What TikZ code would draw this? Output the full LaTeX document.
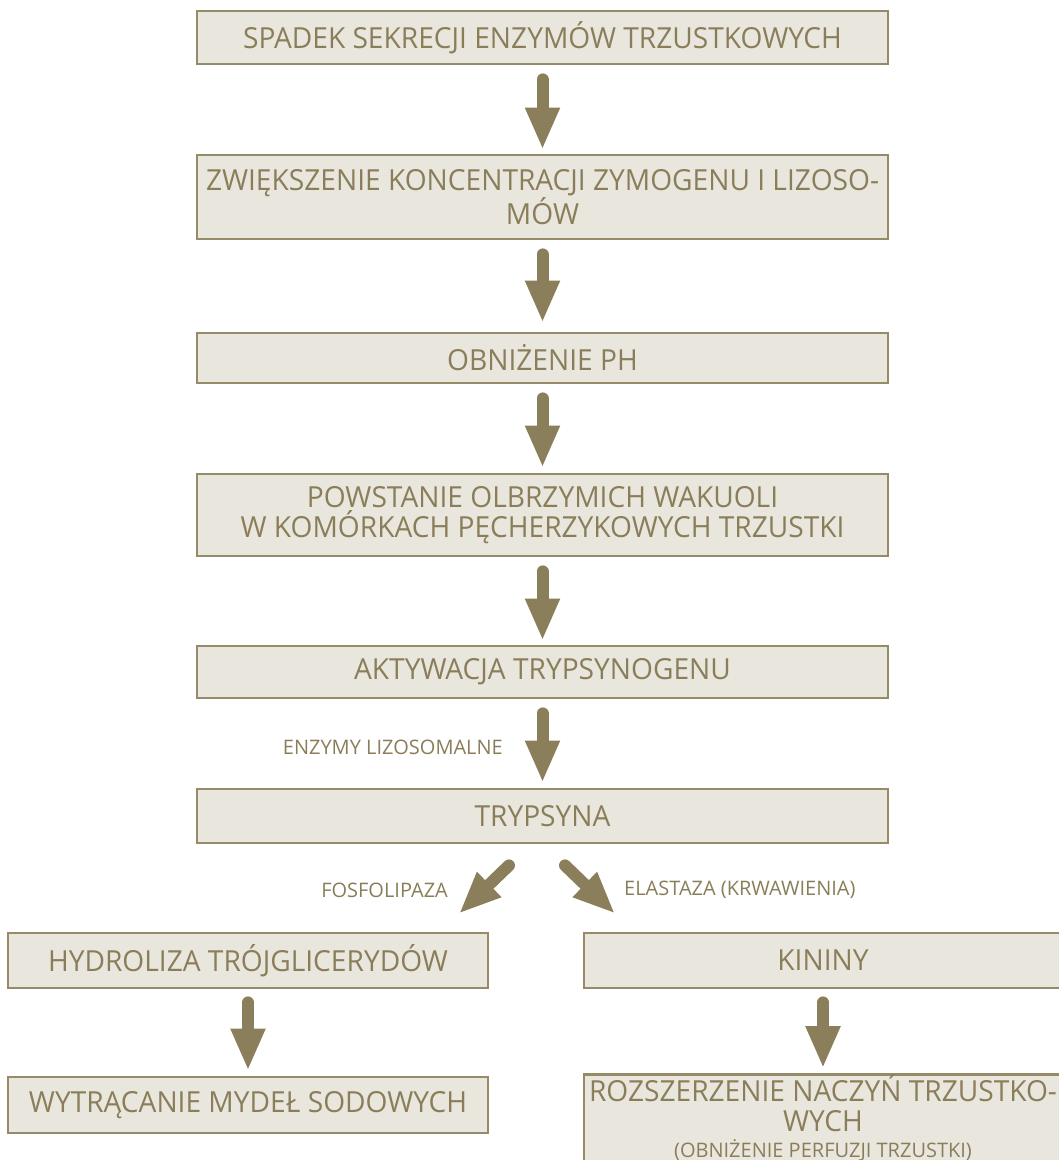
\documentclass[tikz,border=0pt]{standalone}
\usepackage{fontspec}
\setmainfont{Open Sans}[FakeStretch=0.97]
\newfontfamily\smallfont{Open Sans}
\usetikzlibrary{arrows.meta,calc}
\definecolor{txtc}{HTML}{8A7E5A}
\definecolor{arrc}{HTML}{8B7F5B}
\definecolor{bordc}{HTML}{968B68}
\definecolor{fillc}{HTML}{E9E6DD}
\tikzset{
  box/.style={draw=bordc, line width=2.8pt, fill=fillc, text=txtc, inner sep=0pt, align=center, font=\fontsize{29}{29.5}\selectfont},
  fat/.style={draw=arrc, line width=12pt, line cap=round, -{Triangle[width=32pt,length=42pt]}},
  lbl/.style={text=txtc, font=\smallfont\fontsize{20}{21}\selectfont, inner sep=0pt}
}
\begin{document}
\begin{tikzpicture}[x=1pt,y=-1pt]
\useasboundingbox (0,0) rectangle (1059,1160);
\clip (0,0) rectangle (1059,1160);
\fill[white] (0,0) rectangle (1059,1160);
\node[box, minimum width=691pt, minimum height=53pt] (b1) at (542.5,37.5) {SPADEK SEKRECJI ENZYMÓW TRZUSTKOWYCH};
\node[box, minimum width=691pt, minimum height=84pt] (b2) at (542.5,197) {ZWIĘKSZENIE KONCENTRACJI ZYMOGENU I LIZOSO-\\MÓW};
\node[box, minimum width=691pt, minimum height=50pt] (b3) at (542.5,358) {OBNIŻENIE PH};
\node[box, minimum width=691pt, minimum height=82pt] (b4) at (542.5,515) {POWSTANIE OLBRZYMICH WAKUOLI\\W KOMÓRKACH PĘCHERZYKOWYCH TRZUSTKI};
\node[box, minimum width=691pt, minimum height=52pt] (b5) at (542.5,672) {AKTYWACJA TRYPSYNOGENU};
\node[box, minimum width=691pt, minimum height=54pt] (b6) at (542.5,816) {TRYPSYNA};
\node[box, minimum width=480pt, minimum height=55pt] (b7) at (248,960.5) {HYDROLIZA TRÓJGLICERYDÓW};
\node[box, minimum width=478pt, minimum height=55pt] (b8) at (823,960.5) {KININY};
\node[box, minimum width=480pt, minimum height=56pt] (b9) at (248,1105) {WYTRĄCANIE MYDEŁ SODOWYCH};
\node[box, minimum width=478pt, minimum height=82pt] (b10) at (823,1118) {ROZSZERZENIE NACZYŃ TRZUSTKO-\\WYCH\\[-3pt]{\smallfont\fontsize{20}{21}\selectfont (OBNIŻENIE PERFUZJI TRZUSTKI)}};

\draw[fat] ([yshift=-14pt]b1.south) -- ([yshift=4pt]b2.north);
\draw[fat] ([yshift=-14pt]b2.south) -- ([yshift=9pt]b3.north);
\draw[fat] ([yshift=-14pt]b3.south) -- ([yshift=5pt]b4.north);
\draw[fat] ([yshift=-14pt]b4.south) -- ([yshift=4pt]b5.north);
\draw[fat] ([yshift=-14pt]b5.south) -- ([yshift=5pt]b6.north);
\draw[fat] ($(b6.south)+(-33.5,21)$) -- ($(b7.north)+(211,-18)$);
\draw[fat] ($(b6.south)+(22.5,21)$) -- ($(b8.north)+(-208,-18)$);
\draw[fat] ([yshift=-13pt]b7.south) -- ([yshift=5pt]b9.north);
\draw[fat] ([yshift=-13pt]b8.south) -- ([yshift=5pt]b10.north);

\node[lbl, anchor=east] (l1) at (503,747) {ENZYMY LIZOSOMALNE};
\node[lbl, anchor=east] (l2) at (448,890) {FOSFOLIPAZA};
\node[lbl, anchor=west] (l3) at (624,890) {ELASTAZA (KRWAWIENIA)};
\end{tikzpicture}
\end{document}
